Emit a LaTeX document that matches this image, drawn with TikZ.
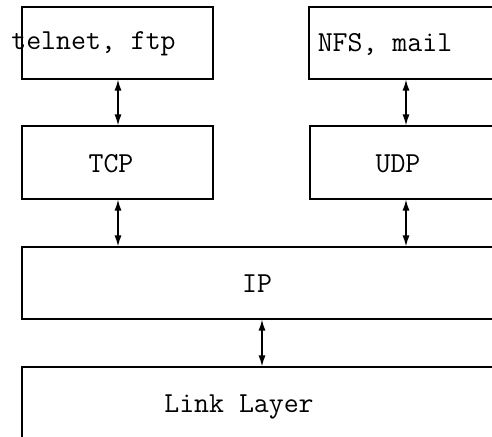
\documentclass[tikz,border=0pt]{standalone}
\usetikzlibrary{arrows.meta}
\begin{document}
\begin{tikzpicture}[x=1pt,y=1pt,
  layer/.style={draw=black, line width=1.3pt, inner sep=0pt, outer sep=0pt, anchor=north west},
  lbl/.style={font=\fontsize{29}{32}\selectfont\ttfamily, inner sep=0pt, anchor=base},
  link/.style={line width=1.3pt, {Latex[length=11pt,width=7pt]}-{Latex[length=11pt,width=7pt]}, shorten <=0.6pt, shorten >=0.6pt}]
  \useasboundingbox (0,0) rectangle (492,-436);
  \clip (0,0) rectangle (492,-436);
  % protocol layers
  \node[layer, minimum width=191pt, minimum height=72pt] (apps1) at (22,-7) {};
  \node[layer, minimum width=211pt, minimum height=72pt] (apps2) at (309,-7) {};
  \node[layer, minimum width=191pt, minimum height=73pt] (tcp) at (22,-126) {};
  \node[layer, minimum width=210pt, minimum height=73pt] (udp) at (310,-126) {};
  \node[layer, minimum width=498pt, minimum height=72pt] (ip) at (22,-247) {};
  \node[layer, minimum width=498pt, minimum height=93pt] (ll) at (22,-367) {};
  % labels
  \node[lbl] (t1) at (93.5,-50) {telnet, ftp};
  \node[lbl] (t2) at (385,-52) {NFS, mail};
  \node[lbl] (t3) at (111,-172) {TCP};
  \node[lbl] (t4) at (398,-172) {UDP};
  \node[lbl] (t5) at (257,-292) {IP};
  \node[lbl] (t6) at (239,-412) {Link Layer};
  % arrow columns
  \coordinate (cl) at (118,0);
  \coordinate (cr) at (406,0);
  \coordinate (cm) at (262,0);
  \draw[link] (cl |- apps1.south) -- (cl |- tcp.north);
  \draw[link] (cr |- apps2.south) -- (cr |- udp.north);
  \draw[link] (cl |- tcp.south) -- (cl |- ip.north);
  \draw[link] (cr |- udp.south) -- (cr |- ip.north);
  \draw[link] (cm |- ip.south) -- (cm |- ll.north);
\end{tikzpicture}
\end{document}
